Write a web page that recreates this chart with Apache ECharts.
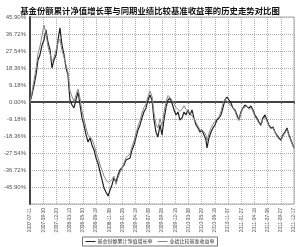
<!DOCTYPE html>
<html>
<head>
<meta charset="utf-8">
<title></title>
<style>
  html, body { margin: 0; padding: 0; background: #fff; }
  #main { width: 300px; height: 247px; }
</style>
</head>
<body>
<div id="main"></div>
<script src="https://cdn.jsdelivr.net/npm/echarts@6/dist/echarts.min.js"></script>
<script>
// x tick labels, one every 81 days from 2007-07-11
var tickLabels = ['2007-07-11', '2007-09-30', '2007-12-20', '2008-03-10', '2008-05-30',
    '2008-08-19', '2008-11-08', '2009-01-28', '2009-04-19', '2009-07-09', '2009-09-28',
    '2009-12-18', '2010-03-09', '2010-05-29', '2010-08-18', '2010-11-07', '2011-01-27',
    '2011-04-18', '2011-07-08', '2011-09-27', '2011-12-17'];
var seriesNames = ['基金份额累计净值增长率', '业绩比较基准收益率'];

// days since 2007-07-11
var days = [0, 12, 25, 37, 49, 61, 74, 86, 98, 110, 123, 135, 147, 160, 172, 184, 196, 209, 221, 233,
    245, 258, 270, 282, 295, 307, 319, 331, 344, 356, 368, 380, 393, 405, 417, 430, 442, 454, 466, 479,
    491, 503, 515, 528, 540, 552, 564, 577, 589, 601, 614, 626, 638, 650, 663, 675, 687, 699, 712, 724,
    736, 749, 761, 773, 785, 798, 810, 822, 834, 847, 859, 871, 884, 896, 908, 920, 933, 945, 957, 969,
    982, 994, 1006, 1019, 1031, 1043, 1055, 1068, 1080, 1086, 1098, 1111, 1123, 1135, 1147, 1160, 1172, 1184, 1196, 1209,
    1221, 1233, 1245, 1258, 1270, 1282, 1294, 1307, 1319, 1331, 1343, 1356, 1368, 1380, 1392, 1405, 1417, 1429, 1442, 1454,
    1466, 1478, 1491, 1503, 1515, 1527, 1540, 1552, 1564, 1577, 1589, 1601, 1613, 1620];

// fund NAV growth, %
var fundValues = [0.0, 3.8, 9.2, 14.6, 22.7, 25.4, 30.8, 33.5, 38.9, 32.4, 28.1, 18.4, 22.7, 25.4, 33.5, 40.0, 30.8, 25.4, 18.4, 14.6,
    1.1, -1.6, -3.2, 1.1, 5.4, -1.6, -8.6, -12.4, -17.8, -21.6, -19.4, -23.2, -25.9, -30.2, -33.0, -37.8, -42.1, -46.4, -48.6, -50.8,
    -47.5, -44.8, -41.0, -43.2, -39.4, -36.7, -35.6, -34.0, -31.3, -32.3, -30.2, -25.9, -23.2, -19.4, -15.1, -12.4, -8.6, -5.4, -3.2, 1.1,
    3.8, 1.1, -9.7, -16.2, -18.9, -12.4, -17.8, -9.7, -3.2, 1.1, 2.2, -0.5, -4.3, -7.0, -5.4, -9.7, -8.6, -5.4, -7.0, -4.3,
    -7.0, -4.3, -8.6, -12.4, -14.0, -16.2, -15.1, -17.8, -20.5, -24.8, -19.4, -16.2, -14.0, -12.4, -9.7, -8.6, -7.0, -3.2, 1.1, 2.7,
    1.1, -0.5, -3.2, -4.3, -7.0, -9.7, -5.4, -3.2, -1.6, -1.6, -3.2, -2.2, -4.3, -7.0, -8.6, -10.8, -12.4, -8.6, -7.0, -9.7,
    -12.4, -14.0, -13.5, -16.2, -17.8, -19.4, -20.5, -17.8, -16.2, -14.0, -17.8, -20.5, -23.2, -24.8];

// benchmark return, %
var benchValues = [0.0, 5.0, 12.0, 18.0, 26.0, 30.0, 36.0, 41.5, 37.0, 30.0, 26.0, 22.0, 24.0, 28.0, 32.0, 34.0, 28.0, 24.0, 20.0, 16.0,
    6.0, 3.0, 0.0, 4.0, 7.0, 2.0, -5.0, -9.0, -14.0, -18.0, -17.0, -20.0, -23.0, -27.0, -30.0, -34.0, -37.0, -40.0, -42.0, -43.5,
    -44.0, -42.0, -40.0, -44.5, -41.0, -38.0, -36.0, -33.0, -30.0, -31.0, -28.0, -24.0, -21.0, -17.0, -13.0, -10.0, -6.0, -3.0, -1.0, 3.0,
    6.0, 3.0, -6.0, -12.0, -14.0, -9.0, -13.0, -6.0, 0.0, 3.5, 3.0, 1.0, -1.0, -3.0, -2.0, -5.0, -4.0, -2.0, -4.0, -3.0,
    -6.0, -5.0, -9.0, -11.0, -13.0, -15.0, -14.0, -16.0, -18.0, -21.0, -17.0, -14.0, -12.0, -11.0, -9.0, -8.0, -5.0, -1.0, 1.5, 0.5,
    -1.0, 0.0, -3.0, -5.0, -8.0, -10.0, -6.0, -3.5, -2.5, -2.0, -4.0, -3.0, -5.0, -8.0, -9.5, -11.5, -13.0, -9.5, -8.0, -10.5,
    -13.0, -14.5, -14.0, -16.5, -18.5, -20.0, -21.0, -18.5, -17.0, -15.0, -18.5, -21.0, -23.5, -25.0];

var fundData = days.map(function (d, i) { return [d, fundValues[i]]; });
var benchData = days.map(function (d, i) { return [d, benchValues[i]]; });

var myChart = echarts.init(document.getElementById('main'));
var option = {
    animation: false,
    title: {
        text: '基金份额累计净值增长率与同期业绩比较基准收益率的历史走势对比图',
        left: 'center',
        top: 2,
        textStyle: { fontFamily: 'Noto Sans CJK SC', fontSize: 8.4, fontWeight: 'bold', color: '#111' }
    },
    legend: {
        bottom: 1,
        left: 'center',
        data: seriesNames,
        itemWidth: 10,
        itemHeight: 1,
        itemGap: 5,
        padding: [2, 3],
        borderColor: '#777',
        borderWidth: 1,
        icon: 'rect',
        textStyle: { fontFamily: 'Noto Sans CJK SC', fontSize: 5, color: '#333', padding: [0, 0, 0, -3] }
    },
    grid: {
        left: 30, right: 6, top: 17, bottom: 43,
        show: true, borderColor: '#aaa', borderWidth: 1
    },
    xAxis: {
        type: 'value',
        min: 0,
        max: 1620,
        interval: 81,
        axisLine: { lineStyle: { color: '#444', width: 2 } },
        axisTick: { show: true, length: 2, lineStyle: { color: '#666' } },
        axisLabel: {
            rotate: 90,
            fontSize: 4.8,
            color: '#555',
            margin: 4,
            formatter: function (v) { return tickLabels[Math.round(v / 81)]; }
        },
        splitLine: { show: true, lineStyle: { color: '#aaa', type: [1, 1], width: 1 } }
    },
    yAxis: {
        type: 'value',
        min: -55.08,
        max: 45.90,
        interval: 9.18,
        axisLine: { show: true, lineStyle: { color: '#444', width: 2 } },
        axisTick: { show: false },
        axisLabel: {
            fontSize: 6,
            color: '#555',
            margin: 4,
            showMinLabel: false,
            formatter: function (v) { return (Math.round(v * 100) / 100).toFixed(2) + '%'; }
        },
        splitLine: { show: true, lineStyle: { color: '#aaa', type: [1, 1], width: 1 } }
    },
    series: [{
        name: seriesNames[0],
        type: 'line',
        data: fundData,
        showSymbol: false,
        lineStyle: { color: '#222', width: 1.2 },
        itemStyle: { color: '#222' }
    }, {
        name: seriesNames[1],
        type: 'line',
        data: benchData,
        showSymbol: false,
        lineStyle: { color: '#888', width: 1 },
        itemStyle: { color: '#888' }
    }]
};
myChart.setOption(option);
</script>
</body>
</html>
